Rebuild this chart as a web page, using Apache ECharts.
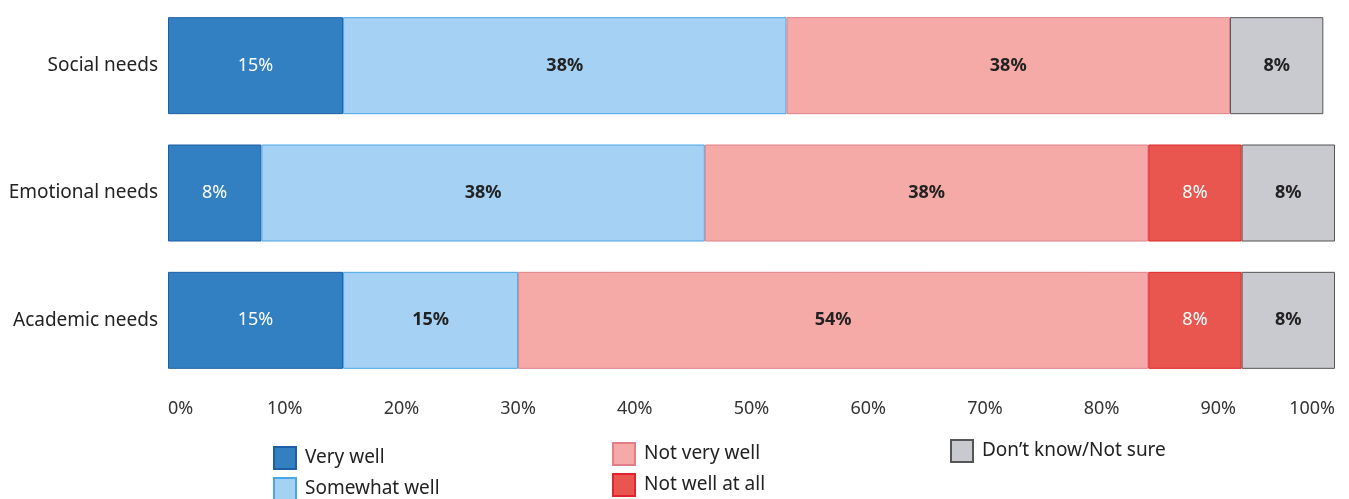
<!DOCTYPE html>
<html>
<head>
<meta charset="utf-8">
<script src="https://cdn.jsdelivr.net/npm/echarts@6/dist/echarts.min.js"></script>
<style>
  html, body { margin: 0; padding: 0; background: #fff; }
  #chart { width: 1349px; height: 499px; }
</style>
</head>
<body>
<div id="chart"></div>
<script>
// Survey categories, top to bottom
const categories = ['Social needs', 'Emotional needs', 'Academic needs'];

// Share of responses (%) per answer, in category order
const veryWell      = [15, 8, 15];
const somewhatWell  = [38, 38, 15];
const notVeryWell   = [38, 38, 54];
const notWellAtAll  = [null, 8, 8];
const dontKnow      = [8, 8, 8];

// Axis ticks (%)
const tickValues = [0, 10, 20, 30, 40, 50, 60, 70, 80, 90, 100];

const FONT = '"Noto Sans", "Open Sans", sans-serif';

function makeSeries(name, data, fill, border, labelColor, weight) {
  return {
    name: name,
    type: 'bar',
    stack: 'total',
    data: data,
    barWidth: 97,
    itemStyle: { color: fill, borderColor: border, borderWidth: 1 },
    label: {
      show: true,
      position: 'inside',
      fontFamily: FONT,
      fontSize: 18,
      fontWeight: weight,
      color: labelColor,
      formatter: p => (p.value ? p.value + '%' : '')
    },
    emphasis: { disabled: true }
  };
}

// One legend block per entry so each can sit at its own spot
function legendAt(name, left, top) {
  return {
    left: left,
    top: top,
    itemWidth: 22,
    itemHeight: 22,
    icon: 'rect',
    selectedMode: false,
    data: [name],
    textStyle: { fontFamily: FONT, fontSize: 19, color: '#222', padding: [0, 0, 0, 4] }
  };
}

const chart = echarts.init(document.getElementById('chart'), null, { renderer: 'canvas' });
chart.setOption({
  backgroundColor: '#fff',
  animation: false,
  grid: { left: 168, right: 14, top: 2, height: 382 },
  xAxis: {
    type: 'value',
    min: 0,
    max: 100,
    interval: 10,
    axisLine: { show: false },
    axisTick: { show: false },
    splitLine: { show: false },
    axisLabel: {
      margin: 16,
      fontFamily: FONT,
      fontSize: 18,
      color: '#333',
      alignMinLabel: 'left',
      alignMaxLabel: 'right',
      formatter: v => (tickValues.includes(v) ? v + '%' : '')
    }
  },
  yAxis: {
    type: 'category',
    data: categories,
    inverse: true,
    axisLine: { show: false },
    axisTick: { show: false },
    axisLabel: { margin: 10, fontFamily: FONT, fontSize: 19, color: '#222' }
  },
  legend: [
    legendAt('Very well', 268, 441),
    legendAt('Somewhat well', 268, 472),
    legendAt('Not very well', 607, 437),
    legendAt('Not well at all', 607, 468),
    legendAt('Don\u2019t know/Not sure', 945, 434)
  ],
  series: [
    makeSeries('Very well', veryWell, '#3280c2', '#1d5ea6', '#fff', 'normal'),
    makeSeries('Somewhat well', somewhatWell, '#a5d1f4', '#4aa6e6', '#222', 'bold'),
    makeSeries('Not very well', notVeryWell, '#f6aaa7', '#e2808a', '#222', 'bold'),
    makeSeries('Not well at all', notWellAtAll, '#e8564f', '#e0262c', '#fff', 'normal'),
    makeSeries('Don\u2019t know/Not sure', dontKnow, '#c9c9d0', '#555', '#222', 'bold')
  ]
});
</script>
</body>
</html>
